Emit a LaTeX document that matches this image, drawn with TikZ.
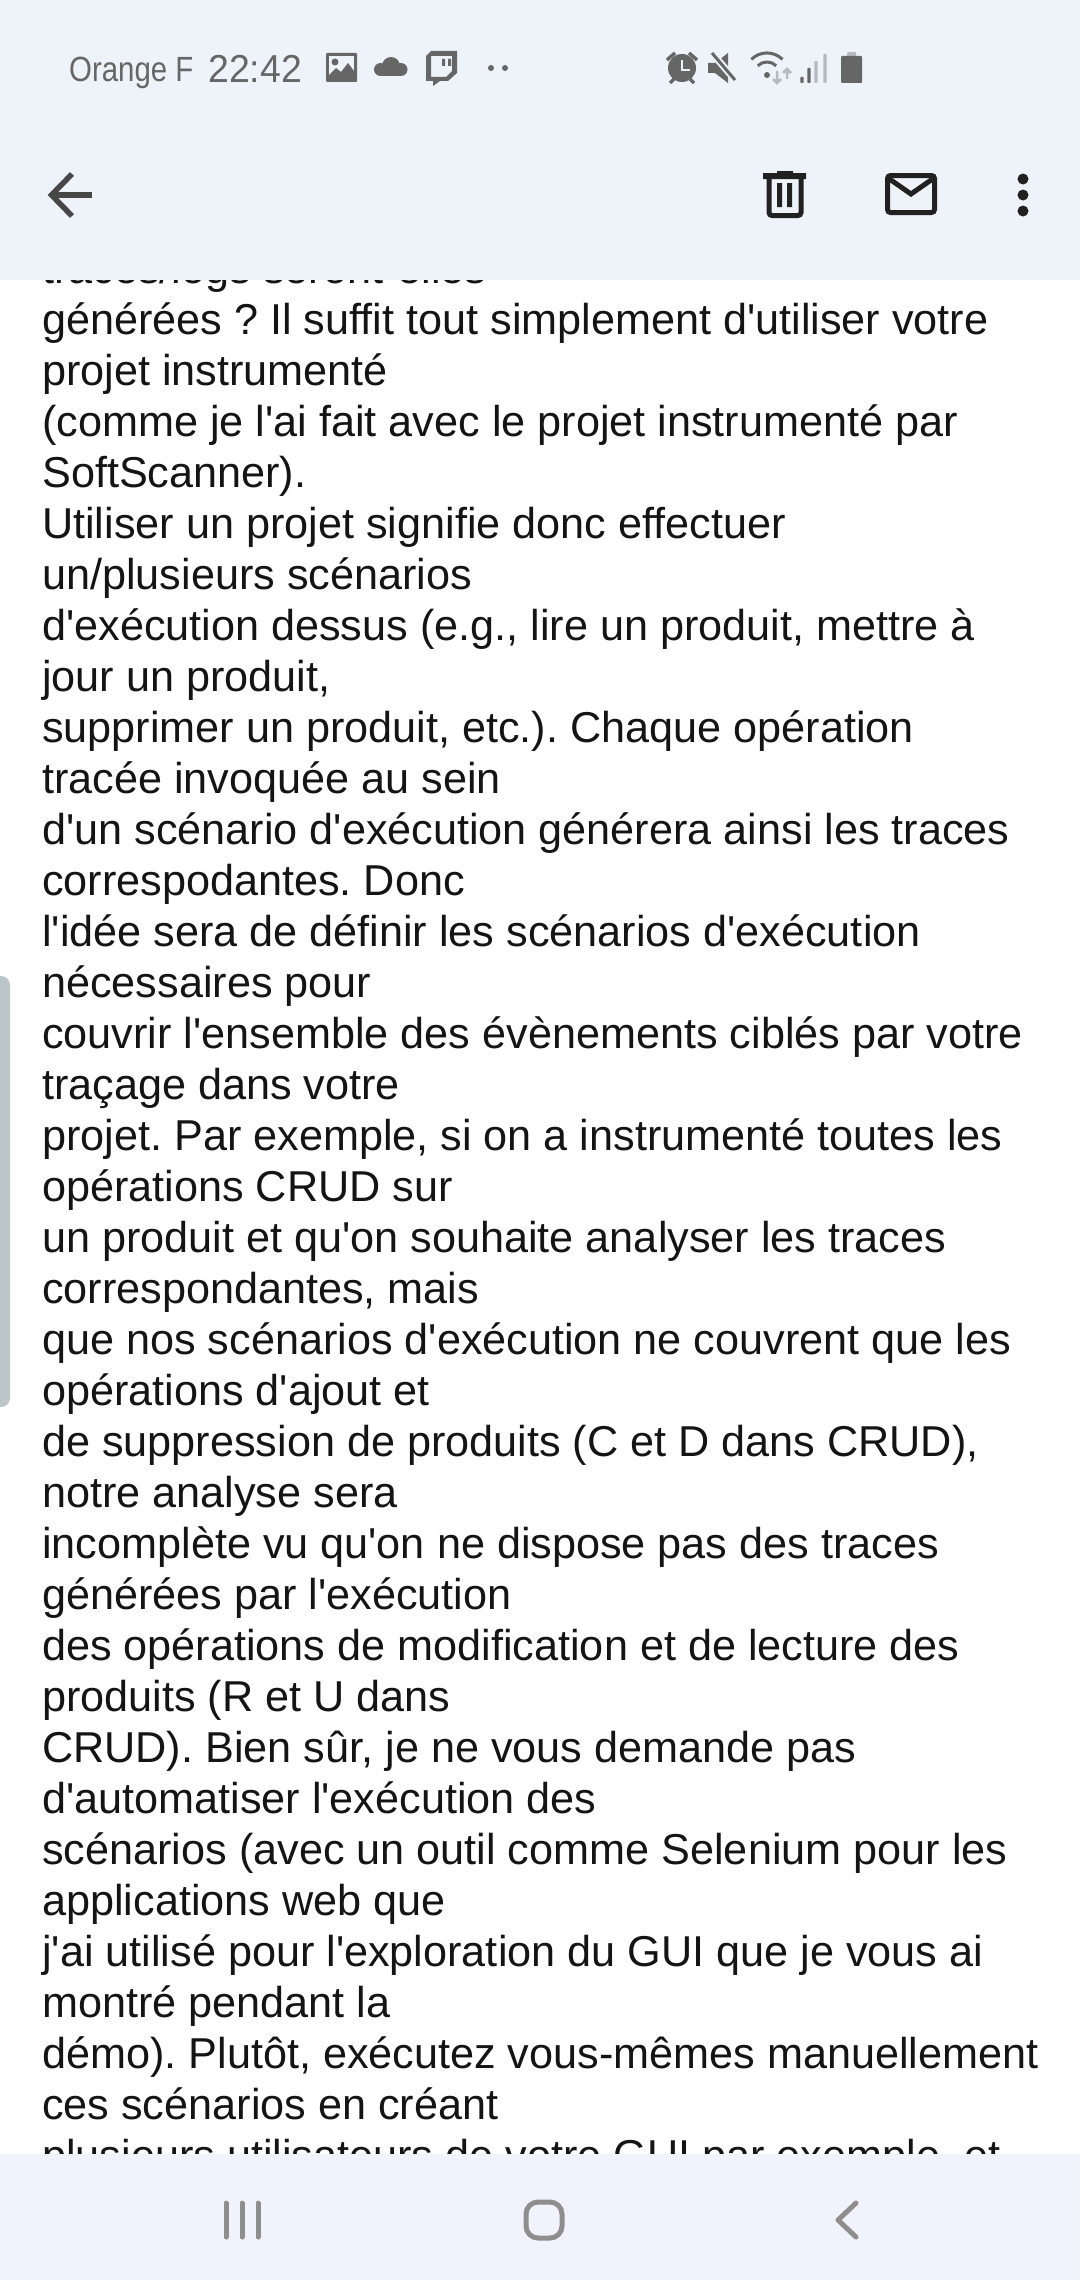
\documentclass[tikz,border=0pt]{standalone}
\usepackage{fontspec}
\newfontfamily\mailfont{Liberation Sans}
\newfontfamily\statusfont[FakeStretch=0.84]{Liberation Sans}
\newfontfamily\clockfont[FakeStretch=0.96]{Liberation Sans}
\definecolor{topbar}{HTML}{EEF3FA}
\definecolor{navbar}{HTML}{F0F3FB}
\definecolor{statusgrey}{HTML}{666666}
\definecolor{lightgrey}{HTML}{B6BAC0}
\definecolor{toolgrey}{HTML}{212121}
\definecolor{navgrey}{HTML}{8E8E8E}
\definecolor{scrollgrey}{HTML}{BBC6C8}
\frenchspacing
\tikzset{
  mailline/.style={anchor=base west,inner sep=0pt,text=black!92,font=\mailfont\fontsize{43.2}{50}\selectfont},
  statustext/.style={anchor=base west,inner sep=0pt,text=statusgrey,font=\statusfont\fontsize{#1}{#1}\selectfont},
  toolicon/.style={draw=toolgrey,line width=5pt},
  navicon/.style={draw=navgrey,line width=5pt,line cap=round,line join=round},
}
\begin{document}
\begin{tikzpicture}
    [x=1pt,y=-1pt]
    \useasboundingbox (0,0) rectangle (1080,2280);
    \fill[white] (0,0) rectangle (1080,2280);
    % mail text
    \foreach \txt [count=\n from 0] in {
        traces/logs seront-elles,
        générées ? Il suffit tout simplement d'utiliser votre,
        projet instrumenté,
        {(comme je l'ai fait avec le projet instrumenté par},
        SoftScanner).,
        Utiliser un projet signifie donc effectuer,
        un/plusieurs scénarios,
        {d'exécution dessus (e.g., lire un produit, mettre à},
        {jour un produit,},
        {supprimer un produit, etc.). Chaque opération},
        tracée invoquée au sein,
        d'un scénario d'exécution générera ainsi les traces,
        correspodantes. Donc,
        l'idée sera de définir les scénarios d'exécution,
        nécessaires pour,
        couvrir l'ensemble des évènements ciblés par votre,
        traçage dans votre,
        {projet. Par exemple, si on a instrumenté toutes les},
        opérations CRUD sur,
        un produit et qu'on souhaite analyser les traces,
        {correspondantes, mais},
        que nos scénarios d'exécution ne couvrent que les,
        opérations d'ajout et,
        {de suppression de produits (C et D dans CRUD),},
        notre analyse sera,
        incomplète vu qu'on ne dispose pas des traces,
        générées par l'exécution,
        des opérations de modification et de lecture des,
        produits (R et U dans,
        {CRUD). Bien sûr, je ne vous demande pas},
        d'automatiser l'exécution des,
        scénarios (avec un outil comme Selenium pour les,
        applications web que,
        j'ai utilisé pour l'exploration du GUI que je vous ai,
        montré pendant la,
        {démo). Plutôt, exécutez vous-mêmes manuellement},
        ces scénarios en créant,
        {plusieurs utilisateurs de votre GUI par exemple, et}}
    \node[mailline] (line\n) at (42,{283.8+51*\n}) {\txt};
    % scroll bar
    \fill[scrollgrey,rounded corners=9pt] (-12,976) rectangle (10,1407);
    % bars
    \fill[topbar] (0,0) rectangle (1080,280);
    \fill[navbar] (0,2154) rectangle (1080,2280);
    % status bar
    \node[statustext=35] (carrier) at (69,82) {Orange F};
    \node[statustext=39,font=\clockfont\fontsize{39}{39}\selectfont] (clock) at (208,83) {22:42};
    \fill[statusgrey,rounded corners=1pt] (326,53) rectangle (357,82);
    \fill[topbar] (329,56) rectangle (354,79);
    \fill[statusgrey] (335,62) circle (3.5);
    \fill[statusgrey] (329,75) -- (336,68) -- (341,72) -- (348,63) -- (354,71) -- (354,79) -- (329,79) -- cycle;
    \fill[statusgrey] (380.5,69.5) circle (6.5);
    \fill[statusgrey] (391,66) circle (9);
    \fill[statusgrey] (401,69.5) circle (6.5);
    \fill[statusgrey] (380,70) rectangle (401,76);
    \fill[statusgrey,even odd rule] (431,51) -- (457,51) -- (457,73) -- (448,81) -- (440,81) -- (433,86) -- (433,81) -- (426,81) -- (426,56) -- cycle
        (431,56) -- (452,56) -- (452,71) -- (446,77) -- (431,77) -- cycle;
    \fill[statusgrey] (442,59) rectangle (445,66) (448,59) rectangle (451,66);
    \foreach \x in {491,505}
        \fill[statusgrey] (\x,68) circle (3);
    % right icons
    \fill[statusgrey] (682,68) circle (14);
    \draw[topbar,line width=2.5pt] (682,60) -- (682,70) -- (690,70);
    \draw[statusgrey,line width=3.5pt] (667,60) -- (675,53) (697,60) -- (689,53) (674,79) -- (670,83) (690,79) -- (694,83);
    \fill[statusgrey] (708,63) -- (715,63) -- (728,53) -- (728,83) -- (715,73) -- (708,73) -- cycle;
    \draw[topbar,line width=7pt] (712,53) -- (736,81);
    \draw[statusgrey,line width=3pt] (712,53) -- (735,80);
    \fill[statusgrey] (767,75) circle (3);
    \draw[statusgrey,line width=3pt] (751.4,59.4) arc[start angle=225,end angle=315,radius=22];
    \draw[statusgrey,line width=3pt] (757.8,65.8) arc[start angle=225,end angle=315,radius=13];
    \draw[lightgrey,line width=2.5pt] (777,71) -- (777,83) (773,79) -- (777,83) -- (781,79);
    \draw[lightgrey,line width=2.5pt] (787,79) -- (787,69) (783,73) -- (787,69) -- (791,73);
    \foreach \x/\ytop/\col in {802/77/statusgrey,809/68/statusgrey,816/61/lightgrey,825/54/lightgrey}
        \fill[\col,rounded corners=.8pt] (\x-1.7,\ytop) rectangle (\x+1.7,83);
    \fill[lightgrey,rounded corners=1pt] (847,52) rectangle (856,58);
    \fill[statusgrey,rounded corners=1pt] (841,56) rectangle (862,83);
    % tool bar
    \draw[draw=black!72,line width=5.5pt,line join=miter] (92,195) -- (55,195);
    \draw[draw=black!72,line width=5.5pt,line join=miter] (72,174) -- (51.5,195) -- (72,216);
    \draw[toolicon,rounded corners=3pt] (769,178) -- (769,215.5) -- (801,215.5) -- (801,178);
    \fill[toolgrey] (763,173) rectangle (806,179) (777,171) rectangle (793,175);
    \fill[toolgrey] (777,183) rectangle (782,207) (787,183) rectangle (792,207);
    \draw[toolicon,rounded corners=3pt] (887.5,175.5) rectangle (934.5,212.5);
    \draw[toolicon] (888,178) -- (911,194) -- (934,178);
    \foreach \y in {179,195,211}
        \fill[toolgrey] (1023,\y) circle (5.5);
    % navigation bar
    \foreach \x in {226,242,258}
        \draw[navicon] (\x,2203) -- (\x,2237);
    \draw[navicon,rounded corners=12pt] (526,2202) rectangle (562,2238);
    \draw[navicon] (856,2203) -- (838,2220) -- (856,2237);
\end{tikzpicture}
\end{document}
